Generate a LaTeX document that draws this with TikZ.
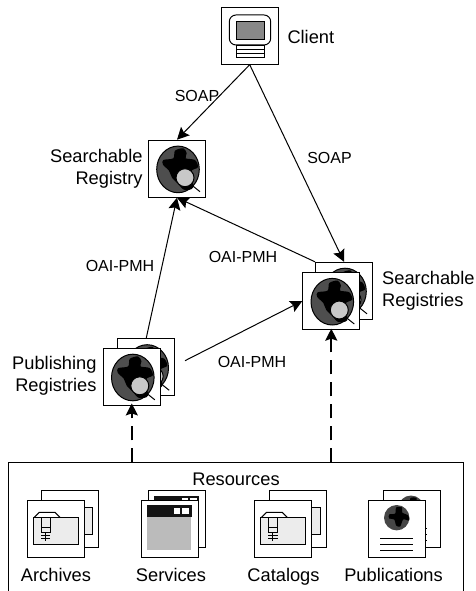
\documentclass[tikz,border=0pt]{standalone}
\usepackage{fontspec}
\setmainfont{Liberation Sans}
\usetikzlibrary{arrows.meta}

\tikzset{every picture/.style={line width=0.75pt}}
\tikzset{
  every pic/.style={yscale=-1},
  iconbox/.style={draw,fill=white,minimum size=42.75pt,inner sep=0pt},
  biglabel/.style={inner sep=0pt,font=\fontsize{13.7}{16.5}\selectfont,align=center},
  leftlabel/.style={biglabel,align=left},
  rightlabel/.style={biglabel,align=right},
  edgelabel/.style={inner sep=0pt,font=\fontsize{12}{14}\selectfont},
  flow/.style={-{Stealth[length=9pt,width=9pt,inset=1.5pt]},line width=0.75pt},
  feed/.style={-{Stealth[length=9pt,width=9pt,inset=1.5pt]},line width=1.3pt,dash pattern={on 10.5pt off 6pt}},
  globe/.pic={
    \fill [color={rgb, 255:red, 78; green, 78; blue, 78 }] (1,0.7) ellipse [x radius=21.3,y radius=23.3];
    \fill plot [smooth cycle,tension=0.5] coordinates {(-13.7,-8.7) (-3.7,-10.4) (-2,-18) (6.3,-20.4) (9.7,-15.4) (8.7,-10.4) (18,-8.7) (21,-1.4) (14,3) (16,19) (7,21) (1,15) (-5,9) (-8,2) (-14,-4)};
    \draw (1,0.7) ellipse [x radius=21.3,y radius=23.3];
    \draw (13,15) -- (23,23);
    \draw [fill={rgb, 255:red, 200; green, 200; blue, 200 }] (8,9) circle [radius=9];
  },
  folder/.pic={
    \draw [fill=white] (-21.7,-11.4) -- (-16.7,-16.4) -- (-1,-16.4) -- (4,-11.4);
    \draw [fill={rgb, 255:red, 236; green, 236; blue, 236 }] (-22.7,-11.4) rectangle (22.7,15.3);
    \draw (-14.7,-11.4) rectangle (-6,4);
    \draw (-14.7,-1) -- (-6,-1);
    \draw (-10.3,4) -- (-10.3,12);
    \draw (-15,6.3) -- (-5.7,6.3);
    \draw (-15,9.6) -- (-5.7,9.6);
  },
  window/.pic={
    \draw [draw=white,fill={rgb, 255:red, 187; green, 187; blue, 187 }] (-22.8,-23.2) rectangle (22.2,22.2);
    \fill [color={rgb, 255:red, 20; green, 20; blue, 20 }] (-22.8,-23.2) rectangle (22.2,-11.8);
    \fill [white] (4.5,-20.8) rectangle (10.5,-14.5);
    \fill [white] (12.8,-20.8) rectangle (19.5,-14.5);
  },
  paper/.pic={
    \fill [color={rgb, 255:red, 70; green, 70; blue, 70 }] (-0.5,-10.8) circle [radius=12.7];
    \fill plot [smooth cycle,tension=0.5] coordinates {(-8,-14) (-2,-15) (-1,-21) (5,-21) (5,-16) (11,-13) (12,-8) (6,-9) (3,-2) (-1,-3) (-3,-9) (-8,-10)};
    \draw (-17.2,9.8) -- (15.5,9.8);
    \draw (-17.2,15.8) -- (15.5,15.8);
    \draw (-17.2,21.5) -- (15.5,21.5);
  }
}

\begin{document}
\begin{tikzpicture}[x=0.75pt,y=0.75pt,yscale=-1,xscale=1]
\useasboundingbox (0,0) rectangle (475,591);
\clip (0,0) rectangle (475,591);

% Client
\node [iconbox] (client) at (249.7,35.7) {};
\draw [rounded corners=5pt,fill=white] (229.3,15) rectangle (270.7,45);
\draw [fill={rgb, 255:red, 136; green, 136; blue, 136 }] (236,21.7) rectangle (264,40);
\draw (236,46) rectangle (264,57.7);
\draw (236,50) -- (264,50);
\draw (236,54) -- (264,54);
\node [leftlabel,anchor=west] (clientlabel) at (287,37) {Client};

% Searchable Registry
\node [iconbox] (registry) at (177,168.7) {};
\pic at (registry) {globe};
\node [rightlabel,anchor=east] (registrylabel) at (143,168.5) {Searchable\\Registry};

% Searchable Registries
\node [iconbox] (regsback) at (344,290.8) {};
\pic at (regsback) {globe};
\node [iconbox] (regsfront) at (331.3,301) {};
\pic at (regsfront) {globe};
\node [leftlabel,anchor=west] (regslabel) at (381.7,291) {Searchable\\Registries};

% Publishing Registries
\node [iconbox] (pubback) at (146.2,367.3) {};
\pic at (pubback) {globe};
\node [iconbox] (pubfront) at (131.8,376.8) {};
\pic at (pubfront) {globe};
\node [rightlabel,anchor=east] (publabel) at (97,376) {Publishing\\Registries};

% Resources
\node [draw,minimum width=341.5pt,minimum height=120pt,anchor=north] (resources) at (236,462.3) {};
\node [biglabel] (reslabel) at (236,479) {Resources};

\node [iconbox] (archback) at (70.2,519) {};
\pic at (archback) {folder};
\node [iconbox] (archfront) at (56,528.7) {};
\pic at (archfront) {folder};
\node [biglabel,anchor=base] (archlabel) at (56,581) {Archives};

\node [iconbox] (servback) at (177,519) {};
\pic at (servback) {window};
\node [iconbox] (servfront) at (169.5,528.5) {};
\pic at (servfront) {window};
\node [biglabel,anchor=base] (servlabel) at (171,581) {Services};

\node [iconbox] (catback) at (297.5,519) {};
\pic at (catback) {folder};
\node [iconbox] (catfront) at (283.2,528.7) {};
\pic at (catfront) {folder};
\node [biglabel,anchor=base] (catlabel) at (283.5,581) {Catalogs};

\node [iconbox] (publback) at (411.5,519) {};
\pic at (publback) {paper};
\node [iconbox] (publfront) at (397.2,528.5) {};
\pic at (publfront) {paper};
\node [biglabel,anchor=base] (publlabel) at (393.5,581) {Publications};

% Connectors
\coordinate (pubout) at (185,360.7);
\draw [flow] (client.south) -- (registry.north);
\draw [flow] (client.south) -- (regsback.north);
\draw [flow] (pubback.north) -- (registry.south);
\draw [flow] (regsback.north west) -- (registry.south);
\draw [flow] (pubout) -- (regsfront.west);
\draw [feed] (pubfront.south |- resources.north) -- ([yshift=-1.8pt]pubfront.south);
\draw [feed] (regsfront.south |- resources.north) -- ([yshift=-1pt]regsfront.south);

% Edge labels
\node [edgelabel] (soapleft) at (197,96) {SOAP};
\node [edgelabel] (soapright) at (329.5,158) {SOAP};
\node [edgelabel] (oaileft) at (120,266) {OAI-PMH};
\node [edgelabel] (oaimid) at (243,257) {OAI-PMH};
\node [edgelabel] (oailow) at (252,362) {OAI-PMH};

\end{tikzpicture}
\end{document}
